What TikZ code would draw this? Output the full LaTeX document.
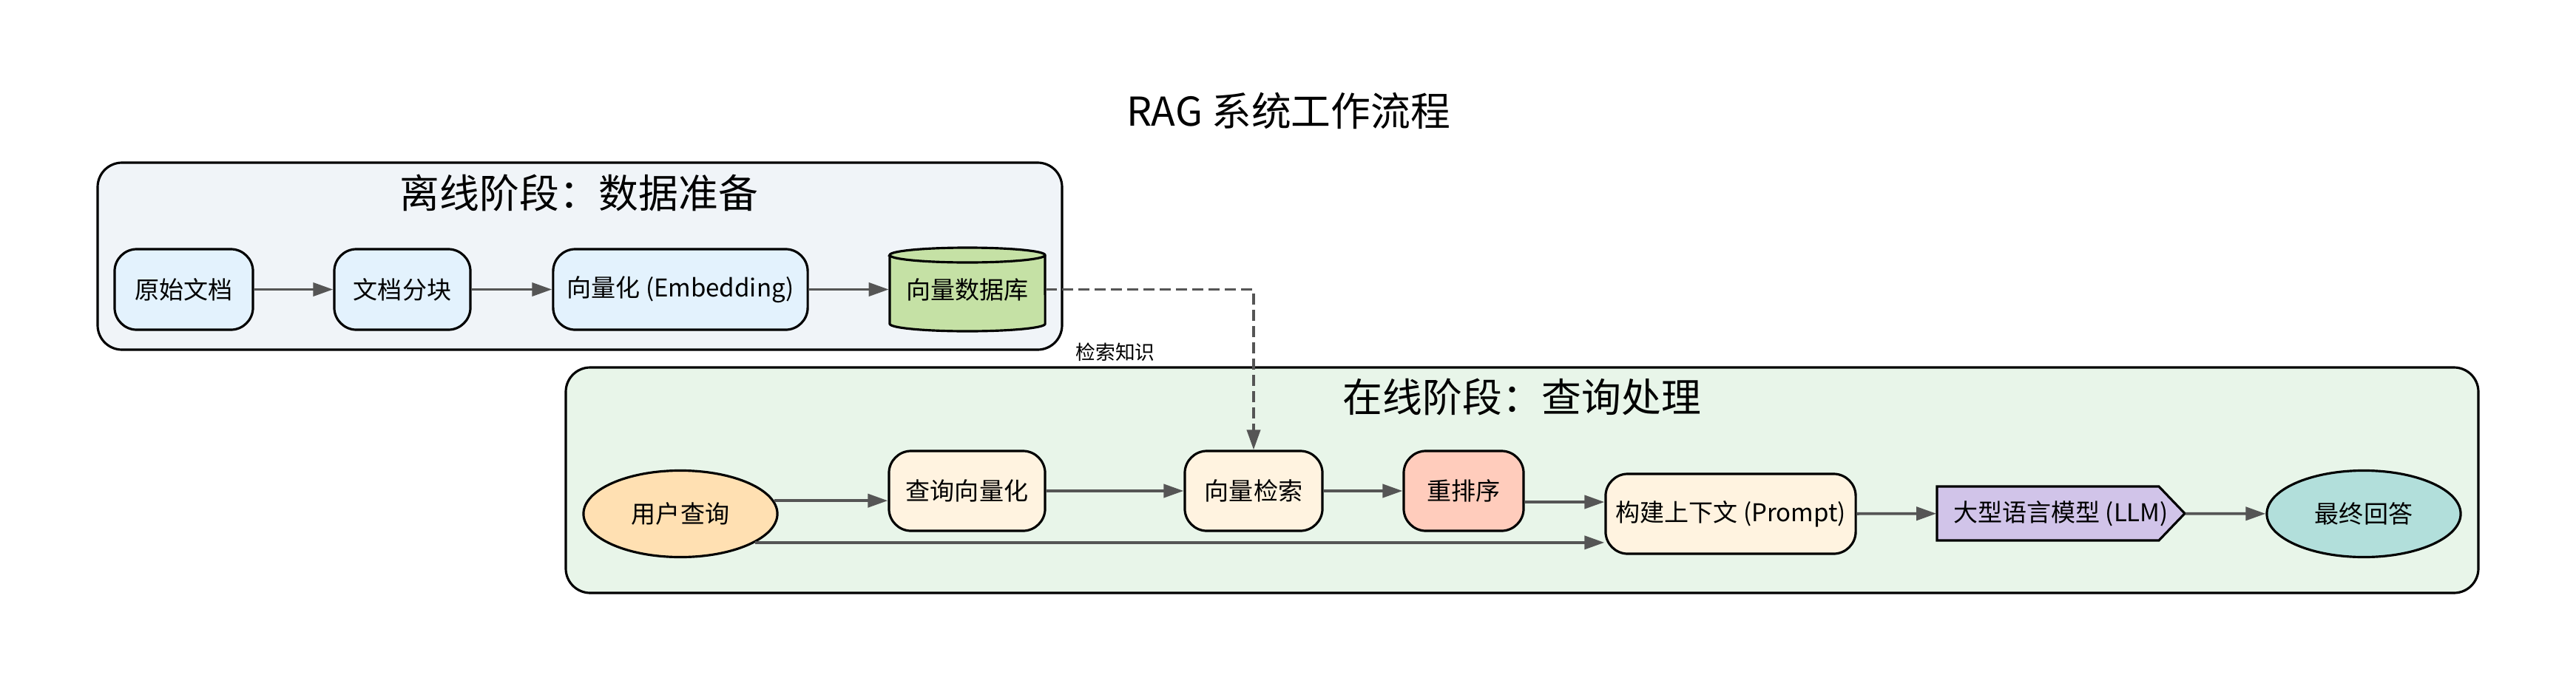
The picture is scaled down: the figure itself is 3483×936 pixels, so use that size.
\documentclass[tikz,border=0pt]{standalone}
\usepackage{fontspec}
\setmainfont{Noto Sans CJK SC}
\usetikzlibrary{arrows.meta,shapes.geometric}
\definecolor{offbg}{HTML}{F0F4F8}
\definecolor{onbg}{HTML}{E8F5E9}
\definecolor{nblue}{HTML}{E3F2FD}
\definecolor{dbgreen}{HTML}{C5E1A5}
\definecolor{uqc}{HTML}{FFE0B2}
\definecolor{procc}{HTML}{FFF3E0}
\definecolor{rrc}{HTML}{FFCCBC}
\definecolor{llmc}{HTML}{D1C4E9}
\definecolor{fac}{HTML}{B2DFDB}
\definecolor{edgec}{HTML}{555555}
\newcommand{\nodefont}{\fontsize{9.4pt}{11.5pt}\selectfont}
\newcommand{\clusterfont}{\fontsize{15.3pt}{18pt}\selectfont}
\newcommand{\lblfont}{\fontsize{7.6pt}{9pt}\selectfont}
\tikzset{
  cluster/.style={draw=black, line width=0.9pt, rounded corners=0.33cm},
  box/.style={draw=black, line width=0.9pt, rounded corners=0.3cm, align=center, font=\nodefont, inner sep=0pt, minimum height=1.08cm},
  oval/.style={ellipse, draw=black, line width=0.9pt, align=center, font=\nodefont, inner sep=0pt, minimum width=2.62cm, minimum height=1.17cm},
  plain/.style={align=center, font=\nodefont, inner sep=0pt},
  arr/.style={draw=edgec, line width=1.1pt, -{Triangle[length=0.27cm,width=0.18cm]}},
  dasharr/.style={arr, dash pattern=on 0.15cm off 0.07cm},
}
\begin{document}
\begin{tikzpicture}[x=0.01cm,y=-0.01cm]
\useasboundingbox[fill=white] (0,0) rectangle (3483,936);
% title
\node[font=\clusterfont] (title) at (1742,150) {RAG 系统工作流程};
% clusters
\draw[cluster, fill=offbg] (132,220) rectangle (1436,473);
\node[font=\clusterfont] (offtitle) at (783,261) {离线阶段：数据准备};
\draw[cluster, fill=onbg] (765,497) rectangle (3351,802);
\node[font=\clusterfont] (ontitle) at (2058,537) {在线阶段：查询处理};
% offline nodes
\node[box, fill=nblue, minimum width=1.87cm, minimum height=1.09cm] (o1) at (248.5,391.5) {原始文档};
\node[box, fill=nblue, minimum width=1.84cm, minimum height=1.09cm] (o2) at (544,391.5) {文档分块};
\node[box, fill=nblue, minimum width=3.44cm, minimum height=1.09cm] (o3) at (920,391.5) {向量化 (Embedding)};
% cylinder
\draw[line width=0.9pt, fill=dbgreen] (1203,345) -- (1203,438)
  arc[start angle=180, end angle=360, x radius=1.05cm, y radius=0.10cm]
  -- (1413,345)
  arc[start angle=0, end angle=180, x radius=1.05cm, y radius=0.10cm] -- cycle;
\draw[line width=0.9pt] (1203,345) arc[start angle=180, end angle=360, x radius=1.05cm, y radius=0.10cm];
\node[plain, minimum width=2.11cm, minimum height=1.15cm] (db) at (1308,391.5) {向量数据库};
% online nodes
\node[oval, fill=uqc] (uq) at (920,695) {用户查询};
\node[box, fill=procc, minimum width=2.11cm] (qv) at (1307.5,664) {查询向量化};
\node[box, fill=procc, minimum width=1.86cm] (vs) at (1695,664) {向量检索};
\node[box, fill=rrc, minimum width=1.62cm] (rr) at (1979,664) {重排序};
\node[box, fill=procc, minimum width=3.38cm] (ctx) at (2340,695) {构建上下文 (Prompt)};
\draw[line width=0.9pt, fill=llmc] (2619,658) -- (2919,658) -- (2954,694.5) -- (2919,731) -- (2619,731) -- cycle;
\node[plain, minimum width=3.35cm, minimum height=0.73cm] (llm) at (2786.5,694.5) {大型语言模型 (LLM)};
\node[oval, fill=fac] (fa) at (3196,695) {最终回答};
% edges
\draw[arr] (o1) -- (o2);
\draw[arr] (o2) -- (o3);
\draw[arr] (o3) -- (db);
\draw[dasharr] (db.east) -| (vs.north);
\node[font=\lblfont, inner sep=0pt] (lbl) at (1508,476) {检索知识};
\draw[arr] (uq.8) -- (uq.8 -| qv.west);
\draw[arr] (qv) -- (vs);
\draw[arr] (vs) -- (rr);
\draw[arr] ([yshift=-0.15cm]rr.east) -- ([yshift=-0.15cm]rr.east -| ctx.west);
\draw[arr] (uq.-21) -- (uq.-21 -| ctx.west);
\draw[arr] (ctx) -- (llm);
\draw[arr] (llm) -- (fa);
\end{tikzpicture}
\end{document}
